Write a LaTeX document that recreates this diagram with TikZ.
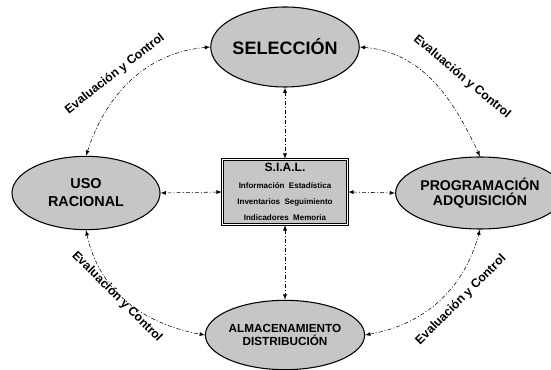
\documentclass[tikz,border=0pt]{standalone}
\usepackage{fontspec}
\setmainfont{Liberation Sans}
\usetikzlibrary{positioning,shapes.geometric,arrows}

\begin{document}
\begin{tikzpicture}[x=0.75pt,y=-0.75pt,
    etapa/.style={ellipse,draw=black,thick,fill=gray!45,inner sep=0pt,align=center},
    eval/.style={font=\bfseries\fontsize{9.2}{10}\selectfont,inner sep=0pt},
    flujo/.style={latex-latex,thin,dash pattern=on 3pt off 1.5pt on 0.8pt off 1.5pt}]
\useasboundingbox (0,0) rectangle (551,370);

\node[etapa,minimum width=108pt,minimum height=60pt,font=\bfseries\fontsize{13.5}{14}\selectfont] (sel) at (285,47) {SELECCIÓN};
\node[etapa,minimum width=111pt,minimum height=55pt,font=\bfseries\fontsize{10.8}{13.5}\selectfont] (uso) at (86,193) {USO\\RACIONAL};
\node[etapa,minimum width=106pt,minimum height=54pt,font=\bfseries\fontsize{10.6}{11.5}\selectfont] (prog) at (480,193) {PROGRAMACIÓN\\ADQUISICIÓN};
\node[etapa,minimum width=110pt,minimum height=52pt,font=\bfseries\fontsize{8.8}{9.5}\selectfont] (alm) at (285,335) {ALMACENAMIENTO\\DISTRIBUCIÓN};

\node[draw=black,double,thick,fill=gray!45,minimum width=94pt,minimum height=49pt,align=center,inner sep=1pt] (sial) at (285,192)
    {{\bfseries\fontsize{9}{10}\selectfont S.I.A.L.}\\[1pt]
     {\bfseries\fontsize{6}{7.5}\selectfont Información\ \ Estadística}\\
     {\bfseries\fontsize{6}{7.5}\selectfont Inventarios\ \ Seguimiento}\\
     {\bfseries\fontsize{6}{7.5}\selectfont Indicadores\ \ Memoria}};

% flechas al centro
\foreach \a/\b in {sel.south/sial.north, sial.south/alm.north, sial.west/uso.east, sial.east/prog.west} {
    \draw[flujo] (\a) -- (\b);
}

% ciclo exterior
\draw[flujo] (uso.north) to[out=72,in=185] (sel.west);
\draw[flujo] (sel.east) to[out=-5,in=115] (prog.north);
\draw[flujo] (uso.south) to[out=-78,in=170] (alm.west);
\draw[flujo] (alm.east) to[out=10,in=-105] (prog.south);

\foreach \x/\y/\ang/\n in {115/74/38/ev1, 462/77/-40/ev2, 117/297/-45/ev3, 461/300/45/ev4} {
    \node[eval,rotate=\ang] (\n) at (\x,\y) {Evaluación y Control};
}
\end{tikzpicture}
\end{document}
